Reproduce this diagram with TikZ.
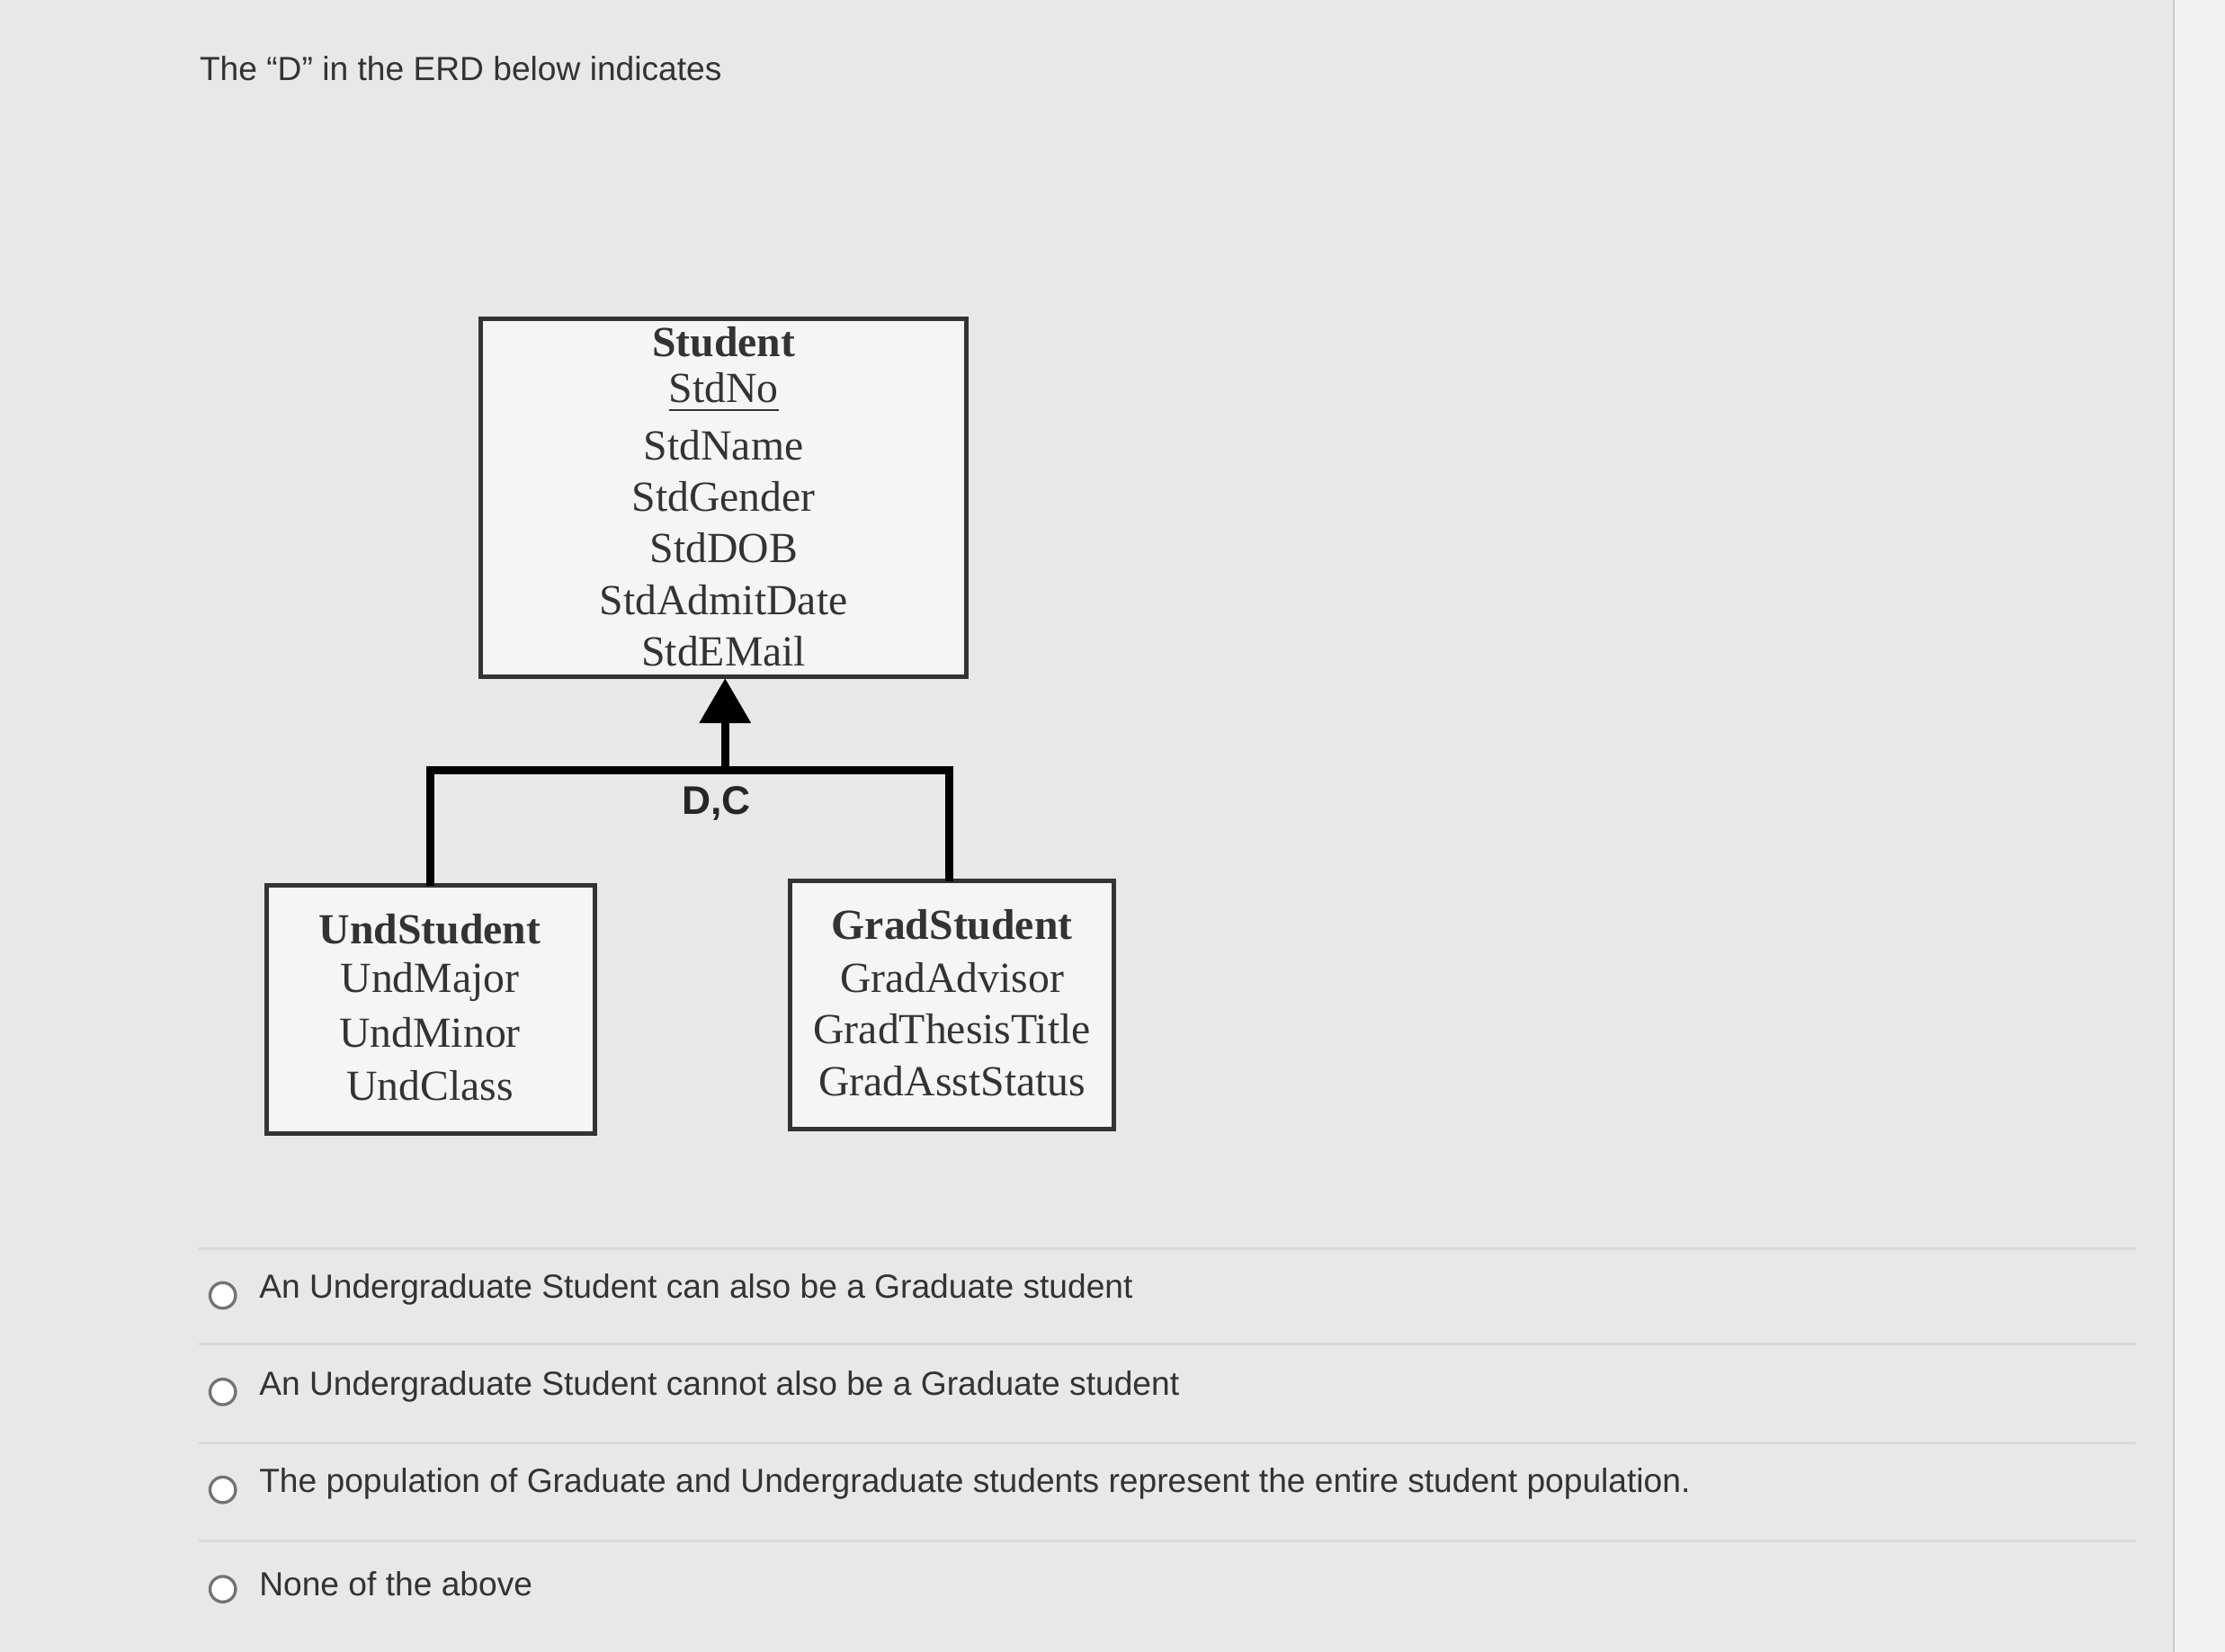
\documentclass[tikz,border=0pt]{standalone}
\usepackage{fontspec}
\setmainfont{Liberation Serif}
\newfontfamily\uisans{Liberation Sans}
\usetikzlibrary{arrows.meta}
\begin{document}
\begin{tikzpicture}[x=0.01cm,y=-0.01cm,
  ent/.style={draw=black!80,line width=0.9pt},
  attr/.style={font=\fontsize{8.6}{10}\selectfont,text=black!80,anchor=center},
  ui/.style={font=\uisans\fontsize{6.7}{8}\selectfont,text=black!80,anchor=west,inner sep=0pt},
  sep/.style={draw=black!15,line width=0.6pt},
  conn/.style={draw=black,line width=1.6pt}]
\fill[black!9] (0,0) rectangle (1568,1164);
\useasboundingbox (0,0) rectangle (1568,1164);
\fill[black!5] (1532,0) rectangle (1568,1164);
\draw[black!20] (1532,0) -- (1532,1164);
\node[ui] (q) at (140,48) {The “D” in the ERD below indicates};
% Student
\draw[ent,fill=black!4] (339,225) rectangle (681,477);
\node[attr] (s0) at (510,241) {\textbf{Student}};
\node[attr] (s1) at (510,277) {\underline{StdNo}};
\node[attr] (s2) at (510,314) {StdName};
\node[attr] (s3) at (510,350) {StdGender};
\node[attr] (s4) at (510,386) {StdDOB};
\node[attr] (s5) at (510,423) {StdAdmitDate};
\node[attr] (s6) at (510,459) {StdEMail};
\coordinate (stb) at (511,478);
% Und
\draw[ent,fill=black!4] (188,624) rectangle (419,799);
\node[attr] (u0) at (303,655) {\textbf{UndStudent}};
\node[attr] (u1) at (303,692) {UndMajor};
\node[attr] (u2) at (303,728) {UndMinor};
\node[attr] (u3) at (303,765) {UndClass};
% Grad
\draw[ent,fill=black!4] (557,621) rectangle (785,796);
\node[attr] (g0) at (671,652) {\textbf{GradStudent}};
\node[attr] (g1) at (671,689) {GradAdvisor};
\node[attr] (g2) at (671,725) {GradThesisTitle};
\node[attr] (g3) at (671,762) {GradAsstStatus};
% connectors
\coordinate (hub) at (511,543);
\coordinate (ut) at (303,624);
\coordinate (gt) at (669,621);
\draw[conn,-{Triangle[length=9pt,width=10pt]}] (hub) -- (stb);
\draw[conn] (ut) |- (hub) -| (gt);
\node[font=\uisans\bfseries\fontsize{8}{9}\selectfont,text=black!85] (dc) at (505,566) {D,C};
% options
\foreach \y/\t in {913/An Undergraduate Student can also be a Graduate student,
                   981/An Undergraduate Student cannot also be a Graduate student,
                   1050/The population of Graduate and Undergraduate students represent the entire student population.,
                   1120/None of the above}{
  \draw[black!55,line width=0.6pt,fill=white] (157,\y) circle (9);
  \node[ui] at (182,\y-4) {\t};
}
\foreach \y in {880,947,1017,1086}{\draw[sep] (140,\y) -- (1505,\y);}
\end{tikzpicture}
\end{document}
